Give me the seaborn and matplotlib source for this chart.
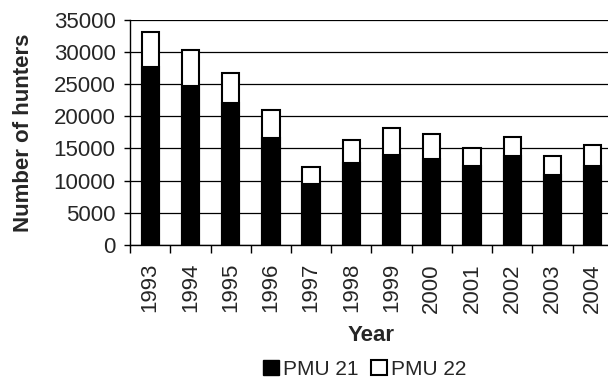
import matplotlib
matplotlib.use("Agg")
import matplotlib.pyplot as plt
from matplotlib.patches import Patch
import seaborn as sns
import numpy as np

years = ["1993", "1994", "1995", "1996", "1997", "1998",
         "1999", "2000", "2001", "2002", "2003", "2004"]
pmu21 = [27700, 24700, 22100, 16600, 9500, 12800,
         14000, 13400, 12300, 13800, 10900, 12300]
pmu22 = [5400, 5600, 4700, 4400, 2550, 3550,
         4200, 3900, 2850, 3000, 2950, 3300]

total = [a + b for a, b in zip(pmu21, pmu22)]

sns.set_style("white")
plt.rcParams["font.family"] = ["Liberation Sans", "DejaVu Sans"]

fig = plt.figure(figsize=(6.08, 3.81), dpi=100)
ax = fig.add_axes([0.214, 0.357, 0.794, 0.591])

# white PMU 22 part drawn as full stack, black PMU 21 on top of it
sns.barplot(x=years, y=total, color="white", edgecolor="black",
            linewidth=1.5, width=0.43, saturation=1, ax=ax, zorder=3)
sns.barplot(x=years, y=pmu21, color="black", edgecolor="black",
            linewidth=1.5, width=0.43, saturation=1, ax=ax, zorder=4)

ax.set_ylim(0, 35000)
ax.set_xlim(-0.5, 11.5)
ax.set_yticks(np.arange(0, 35001, 5000))
ax.yaxis.grid(True, color="black", linewidth=0.9)
ax.set_axisbelow(True)

for s in ["top", "right"]:
    ax.spines[s].set_visible(False)
for s in ["left", "bottom"]:
    ax.spines[s].set_color("black")
    ax.spines[s].set_linewidth(1.0)

ax.set_xticks(np.arange(len(years)))
ax.set_xticklabels(years, rotation=90)
ax.set_xticks(np.arange(-0.5, len(years)), minor=True)
ax.tick_params(axis="x", which="major", length=0, labelsize=16, pad=13)
ax.tick_params(axis="x", which="minor", length=6, width=1, color="black",
               direction="out", bottom=True)
ax.tick_params(axis="y", length=4.5, width=1, color="black", direction="out",
               left=True, labelsize=16, pad=6)

ax.set_xlabel("Year", fontsize=16, fontweight="bold", labelpad=9)
ax.set_ylabel("Number of hunters", fontsize=16, fontweight="bold", labelpad=14)

handles = [Patch(facecolor="black", edgecolor="black", label="PMU 21"),
           Patch(facecolor="white", edgecolor="black", linewidth=1.5, label="PMU 22")]
fig.legend(handles=handles, loc="center", bbox_to_anchor=(0.6, 0.03), ncol=2,
           frameon=False, fontsize=15, handlelength=0.75, handleheight=0.75,
           handletextpad=0.2, columnspacing=0.6)

fig.savefig("out.png", dpi=100)
